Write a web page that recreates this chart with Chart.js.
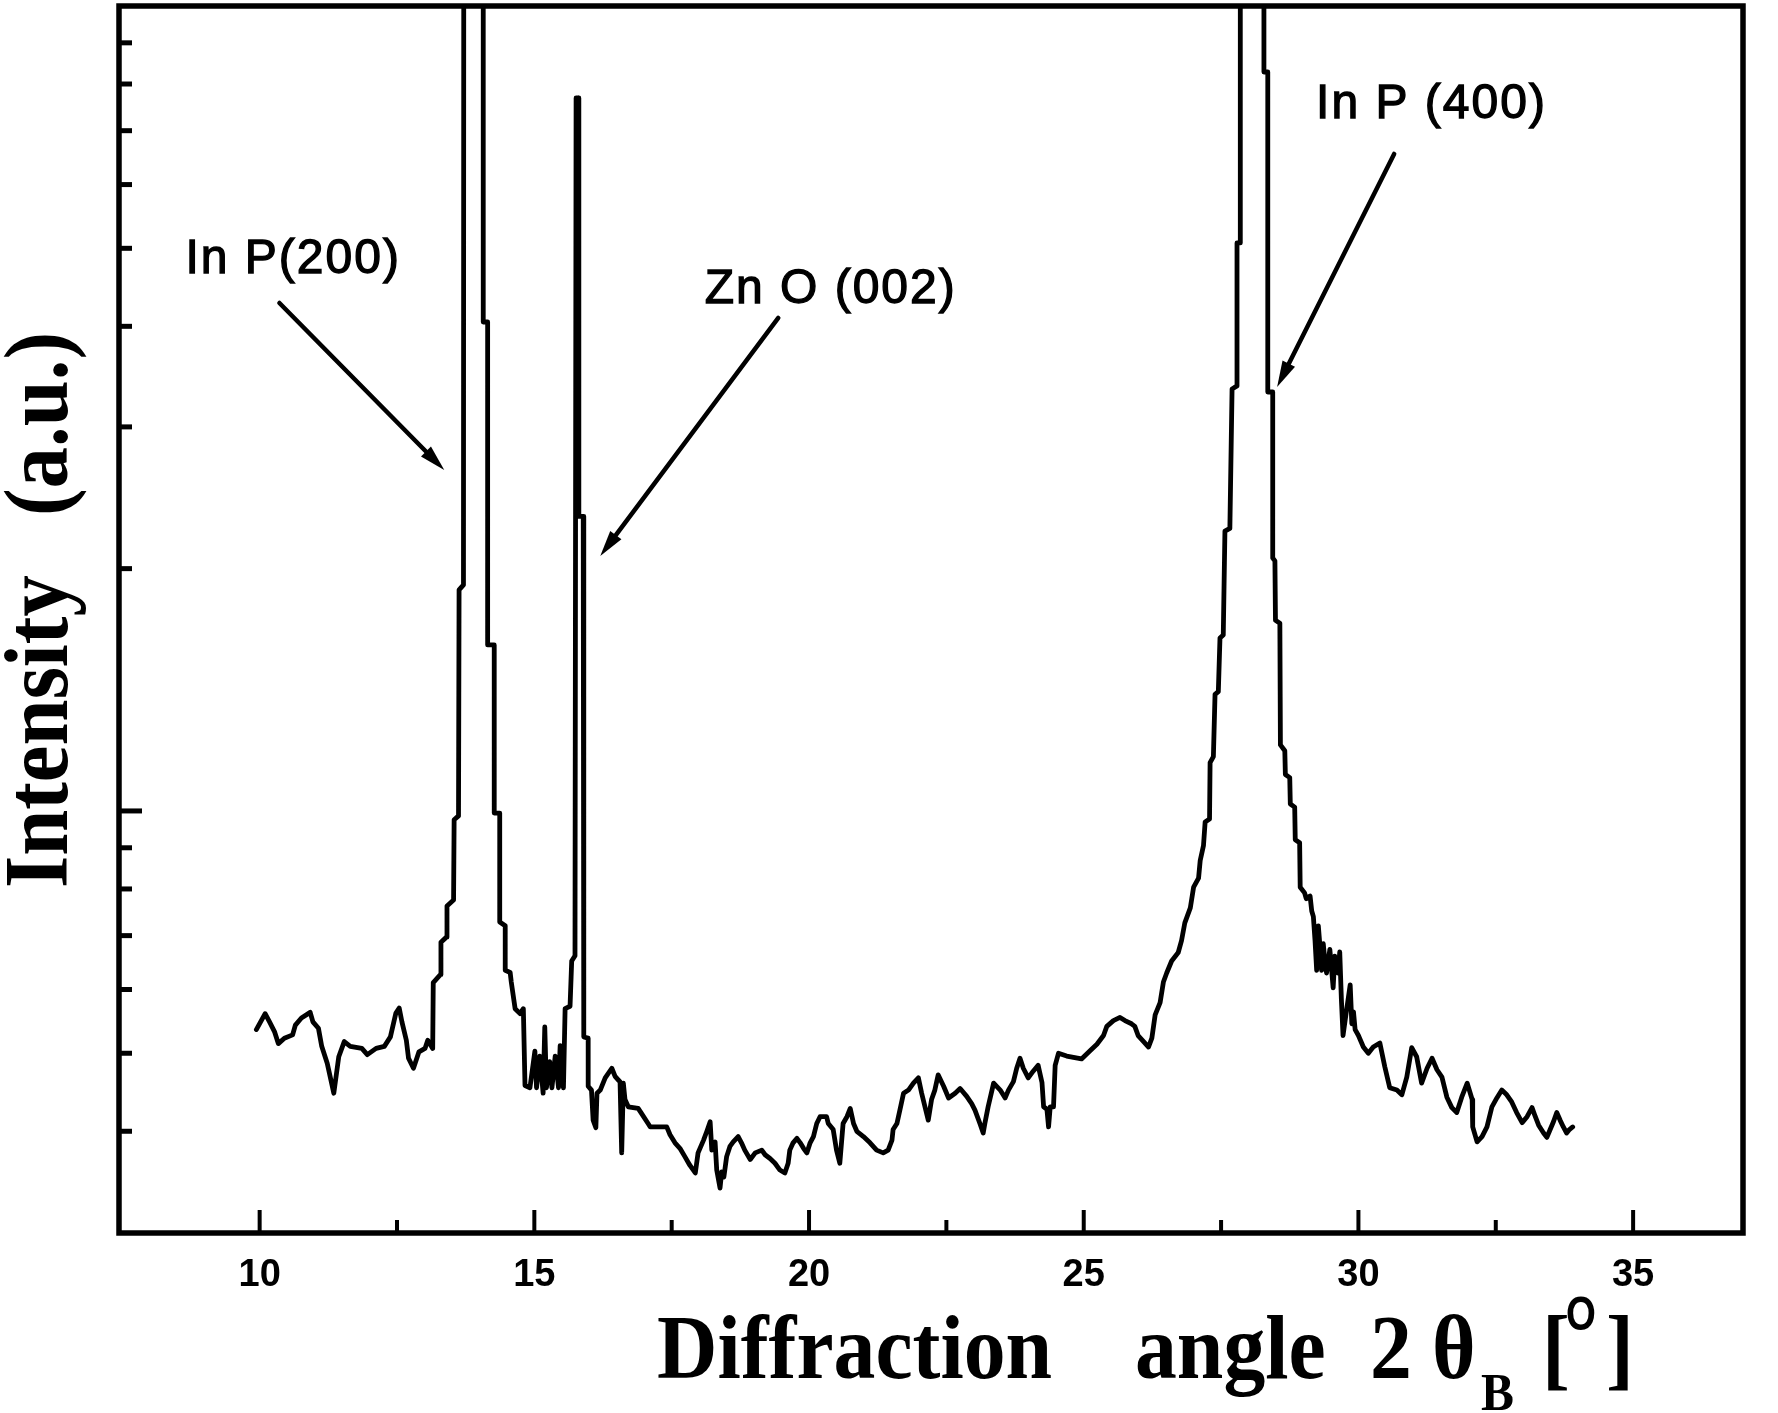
<!DOCTYPE html>
<html>
<head>
<meta charset="utf-8">
<script src="https://cdn.jsdelivr.net/npm/chart.js@4.4.1/dist/chart.umd.min.js"></script>
<style>
  html, body { margin: 0; padding: 0; background: #ffffff; }
  #wrap { position: relative; width: 1778px; height: 1413px; }
</style>
</head>
<body>
<div id="wrap"><canvas id="c" width="1778" height="1413"></canvas></div>
<script>
// ---------------- data ----------------
const angle = [
  9.94,10.10,10.18,10.27,10.34,10.45,10.60,10.65,10.76,10.92,10.97,11.07,11.13,11.23,11.31,11.35,11.44,11.54,11.65,11.86,
  11.96,12.12,12.27,12.38,12.48,12.54,12.59,12.67,12.71,12.80,12.90,13.01,13.06,13.15,
  13.16,13.29,13.30,13.40,13.41,13.53,13.54,13.62,13.63,13.71,13.72,14.07,14.07,14.15,14.15,14.27,14.27,14.37,14.37,14.47,
  14.47,14.56,14.58,14.65,14.74,14.80,14.83,14.92,15.01,15.04,15.10,15.16,15.19,15.22,15.28,15.32,15.38,15.44,15.47,15.53,
  15.56,15.65,15.68,15.74,
  15.76,15.80,15.81,15.89,15.90,15.98,15.98,16.04,16.07,16.12,16.14,16.20,16.29,16.41,16.47,16.53,16.56,16.59,16.62,16.65,
  16.71,16.89,16.95,17.07,17.11,17.41,17.47,17.56,17.65,17.74,17.83,17.93,17.98,18.08,18.14,18.20,18.23,18.29,18.32,18.38,
  18.41,18.45,18.50,18.56,18.62,18.71,18.77,18.83,18.93,19.02,19.14,19.20,19.29,19.38,19.47,19.56,19.62,19.65,19.71,19.78,
  19.84,19.90,19.96,20.02,20.08,20.14,20.20,20.32,20.35,20.44,20.50,20.56,20.62,20.69,20.75,20.81,20.87,20.99,21.11,21.23,
  21.35,21.44,21.51,21.53,21.60,21.66,21.72,21.81,21.90,21.99,22.05,22.11,22.17,22.23,22.29,22.35,22.45,22.54,22.66,22.75,
  22.87,22.96,23.02,23.11,23.17,23.20,23.26,23.36,23.48,23.57,23.63,23.72,23.78,23.84,23.90,23.99,24.08,24.17,24.24,24.27,
  24.33,24.36,24.39,24.45,24.48,24.54,24.69,24.96,25.12,25.24,25.36,25.42,25.54,25.66,25.75,25.87,25.93,25.99,26.09,26.18,
  26.24,26.30,26.39,26.45,26.51,26.60,26.72,26.78,26.84,26.94,27.00,27.09,27.12,27.18,27.21,27.29,27.30,27.36,27.39,27.45,
  27.48,27.54,27.57,27.66,27.70,27.79,27.79,27.85,27.85,28.28,28.28,28.35,28.35,28.44,28.44,28.48,28.49,28.57,28.58,28.66,
  28.67,28.75,28.76,28.84,28.85,28.93,28.94,29.02,29.05,29.12,29.15,29.18,29.21,29.24,29.27,29.30,29.33,29.36,29.39,29.42,
  29.48,29.54,29.57,29.63,29.66,29.69,29.72,29.78,29.85,29.88,29.91,29.94,30.00,30.09,30.18,30.27,30.39,30.48,30.57,30.70,
  30.79,30.88,30.97,31.06,31.15,31.25,31.34,31.43,31.52,31.61,31.70,31.79,31.88,31.98,32.07,32.08,32.16,32.25,32.34,32.43,
  32.52,32.61,32.70,32.79,32.88,32.98,33.07,33.16,33.22,33.28,33.37,33.43,33.49,33.55,33.61,33.67,33.73,33.79,33.84,33.90
];
const intensity = [
  535,560,547,532,514,522,527,542,553,562,547,537,510,486,459,446,495,517,510,507,
  498,507,510,524,561,569,547,519,493,479,502,507,519,507,
  612,626,687,697,762,775,975,986,1882,1909,60000,60000,4050,4050,1608,1608,994,994,728,720,
  634,630,613,568,560,568,456,453,503,453,496,446,539,453,488,453,496,453,511,453,
  568,572,651,661,
  7687,7687,2322,2322,524,522,455,450,413,404,446,450,466,479,468,463,461,376,459,438,
  429,427,421,409,405,405,396,387,381,372,363,355,376,390,400,411,379,388,358,340,
  356,351,372,383,388,394,387,379,369,376,379,374,370,365,358,355,365,379,387,392,
  387,381,376,387,394,409,417,417,409,402,379,365,409,417,427,409,400,394,387,379,
  376,379,390,402,409,427,446,450,459,466,446,429,413,438,450,470,455,440,446,452,
  442,433,425,409,398,409,429,459,450,440,450,461,479,493,479,466,475,483,460,429,
  426,405,429,429,483,500,496,492,504,513,526,540,549,554,549,544,540,526,517,509,
  522,558,578,613,629,651,667,690,726,758,804,825,868,906,969,977,1148,1168,1396,1407,
  1640,1654,2226,2244,3344,3373,5077,5077,60000,60000,8279,8279,3315,3315,2062,2045,1725,1711,1208,1188,
  1110,1100,1020,1011,921,913,804,791,778,784,751,739,690,634,720,679,634,684,651,629,
  673,603,660,629,668,583,526,563,608,544,563,535,526,509,500,509,515,481,453,450,
  444,467,508,495,459,479,493,477,467,441,428,422,441,459,438,405,388,394,405,429,
  440,450,444,435,422,410,417,428,417,407,398,393,402,411,422,413,405,398,402,405
];
const xTickLabels = [10, 15, 20, 25, 30, 35];
const xMinorTicks = [12.5, 17.5, 22.5, 27.5, 32.5];
const yMajorTicks = [1000];
const yMinorTicks = [400, 500, 600, 700, 800, 900, 2000, 3000, 4000, 5000, 6000, 7000, 8000, 9000];
const peakNames = ['In P(200)', 'Zn O (002)', 'In P (400)'];

// annotation anchors in data units (angle, intensity)
const notes = [
  { text: peakNames[0], at: [8.65, 4659], from: [10.36, 4276], to: [13.36, 2652] },
  { text: peakNames[1], at: [18.10, 4276], from: [19.44, 4097], to: [16.20, 2074] },
  { text: peakNames[2], at: [29.23, 7259], from: [30.65, 6549], to: [28.52, 3363] }
];

// ---------------- drawing ----------------
const SERIF = '"Liberation Serif", "Times New Roman", serif';
const SANS = '"Liberation Sans", Arial, sans-serif';

const framePlugin = {
  id: 'frame',
  afterDraw(chart) {
    const ctx = chart.ctx;
    const a = chart.chartArea;
    const xs = chart.scales.x, ys = chart.scales.y;
    ctx.save();
    ctx.strokeStyle = '#000';
    ctx.fillStyle = '#000';
    ctx.lineCap = 'butt';

    // frame
    ctx.lineWidth = 5.5;
    ctx.strokeRect(a.left, a.top, a.right - a.left, a.bottom - a.top);

    // y ticks (inward)
    ctx.lineWidth = 5;
    yMinorTicks.forEach(v => {
      const y = ys.getPixelForValue(v);
      ctx.beginPath(); ctx.moveTo(a.left, y); ctx.lineTo(a.left + 13, y); ctx.stroke();
    });
    yMajorTicks.forEach(v => {
      const y = ys.getPixelForValue(v);
      ctx.beginPath(); ctx.moveTo(a.left, y); ctx.lineTo(a.left + 23, y); ctx.stroke();
    });
    // x ticks (inward)
    ctx.lineWidth = 4;
    xTickLabels.forEach(v => {
      const x = xs.getPixelForValue(v);
      ctx.beginPath(); ctx.moveTo(x, a.bottom); ctx.lineTo(x, a.bottom - 23); ctx.stroke();
    });
    xMinorTicks.forEach(v => {
      const x = xs.getPixelForValue(v);
      ctx.beginPath(); ctx.moveTo(x, a.bottom); ctx.lineTo(x, a.bottom - 13); ctx.stroke();
    });

    // peak annotations
    notes.forEach(n => {
      const lx = xs.getPixelForValue(n.at[0]), ly = ys.getPixelForValue(n.at[1]);
      ctx.font = '48px ' + SANS;
      ctx.textAlign = 'left';
      ctx.textBaseline = 'alphabetic';
      try { ctx.letterSpacing = '2px'; } catch (e) {}
      ctx.lineWidth = 1.3;
      ctx.fillText(n.text, lx, ly);
      ctx.strokeText(n.text, lx, ly);
      try { ctx.letterSpacing = '0px'; } catch (e) {}

      const x0 = xs.getPixelForValue(n.from[0]), y0 = ys.getPixelForValue(n.from[1]);
      const x1 = xs.getPixelForValue(n.to[0]), y1 = ys.getPixelForValue(n.to[1]);
      const ang = Math.atan2(y1 - y0, x1 - x0);
      const head = 26, half = 7;
      const bx = x1 - head * Math.cos(ang), by = y1 - head * Math.sin(ang);
      ctx.lineWidth = 4.5;
      ctx.lineCap = 'round';
      ctx.beginPath(); ctx.moveTo(x0, y0); ctx.lineTo(bx, by); ctx.stroke();
      ctx.beginPath();
      ctx.moveTo(x1, y1);
      ctx.lineTo(bx + half * Math.sin(ang), by - half * Math.cos(ang));
      ctx.lineTo(bx - half * Math.sin(ang), by + half * Math.cos(ang));
      ctx.closePath();
      ctx.fill();
      ctx.lineCap = 'butt';
    });

    // x axis title
    const piece = (txt, x, y, font, sx) => {
      ctx.save();
      ctx.translate(x, y);
      ctx.scale(sx, 1);
      ctx.font = font;
      ctx.textAlign = 'left';
      ctx.textBaseline = 'alphabetic';
      ctx.fillText(txt, 0, 0);
      ctx.restore();
    };
    const big = 'bold 90px ' + SERIF;
    piece('Diffraction', 657, 1378, big, 0.93);
    piece('angle', 1135, 1378, big, 0.93);
    piece('2', 1370, 1378, big, 0.93);
    piece('\u03B8', 1432, 1378, big, 0.93);
    piece('B', 1481, 1410, 'bold 52px ' + SERIF, 0.95);
    piece('[', 1542, 1378, big, 0.93);
    piece('O', 1566, 1330, 'bold 48px ' + SANS, 0.8);
    piece(']', 1606, 1378, big, 0.93);

    // y axis title (rotated)
    ctx.save();
    ctx.translate(67, 888);
    ctx.rotate(-Math.PI / 2);
    ctx.scale(0.92, 1);
    ctx.font = big;
    ctx.textAlign = 'left';
    ctx.textBaseline = 'alphabetic';
    ctx.fillText('Intensity', 0, 0);
    ctx.fillText('(a.u.)', (888 - 516) / 0.92, 0);
    ctx.restore();

    ctx.restore();
  }
};

const ctx = document.getElementById('c').getContext('2d');
new Chart(ctx, {
  type: 'line',
  data: {
    datasets: [{
      data: angle.map((a, i) => ({ x: a, y: intensity[i] })),
      borderColor: '#000',
      borderWidth: 4.8,
      pointRadius: 0,
      tension: 0,
      fill: false,
      borderJoinStyle: 'round',
      borderCapStyle: 'round'
    }]
  },
  options: {
    responsive: false,
    animation: false,
    devicePixelRatio: 1,
    layout: { padding: { left: 119, right: 35, top: 6, bottom: 0 } },
    plugins: { legend: { display: false }, tooltip: { enabled: false }, title: { display: false } },
    scales: {
      x: {
        type: 'linear',
        position: 'bottom',
        min: 7.44,
        max: 37.0,
        grid: { display: false, drawTicks: false },
        border: { display: false },
        afterBuildTicks: s => { s.ticks = xTickLabels.map(v => ({ value: v })); },
        afterFit: s => { s.height = 180; },
        ticks: {
          color: '#000',
          padding: 20,
          maxRotation: 0,
          autoSkip: false,
          font: { family: '"Liberation Sans Narrow", "Liberation Sans", Arial, sans-serif', size: 38, weight: 'bold' },
          callback: v => String(v)
        }
      },
      y: {
        type: 'logarithmic',
        min: 299,
        max: 10000,
        display: false
      }
    }
  },
  plugins: [framePlugin]
});
</script>
</body>
</html>
